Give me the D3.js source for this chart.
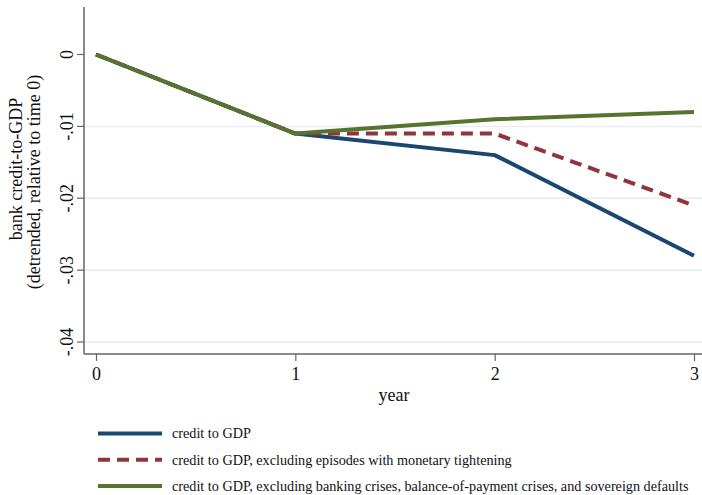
<!DOCTYPE html>
<html>
<head>
<meta charset="utf-8">
<script src="https://cdn.jsdelivr.net/npm/d3@7"></script>
<style>
  body { margin: 0; background: #fff; }
  svg text { font-family: "Liberation Serif", "Times New Roman", serif; fill: #111; }
</style>
</head>
<body>
<div id="chart"></div>
<script>
const years = [0, 1, 2, 3];
const creditToGdp = [0, -0.011, -0.014, -0.028];
const exclTightening = [0, -0.011, -0.011, -0.021];
const exclCrises = [0, -0.011, -0.009, -0.008];
const yTicks = [0, -0.01, -0.02, -0.03, -0.04];
const yTickLabels = ["0", "-.01", "-.02", "-.03", "-.04"];
const seriesNames = [
  "credit to GDP",
  "credit to GDP, excluding episodes with monetary tightening",
  "credit to GDP, excluding banking crises, balance-of-payment crises, and sovereign defaults"
];

const width = 702, height = 495;
const svg = d3.select("#chart").append("svg")
  .attr("width", width)
  .attr("height", height);

// plot frame
const plotLeft = 84, plotRight = 702, plotTop = 7, plotBottom = 354;
const axisFont = 18;

const x = d3.scaleLinear().domain([0, 3]).range([96, 694]);
const y = d3.scaleLinear().domain([0, -0.04]).range([54.5, 342]);

// gridlines
svg.append("g")
  .selectAll("line")
  .data(yTicks.slice(1))
  .enter()
  .append("line")
  .attr("x1", plotLeft).attr("x2", plotRight)
  .attr("y1", (d) => y(d)).attr("y2", (d) => y(d))
  .attr("stroke", "#e6eef1")
  .attr("stroke-width", 1.5);

// axes
const yAxis = svg.append("g")
  .attr("transform", `translate(${plotLeft},0)`)
  .call(d3.axisLeft(y).tickValues(yTicks).tickSize(7).tickFormat((d, i) => yTickLabels[i]));
yAxis.select(".domain").attr("d", `M0,${plotTop}V${plotBottom}`);
yAxis.selectAll("line").attr("stroke", "#666").attr("stroke-width", 1.2);
yAxis.select(".domain").attr("stroke", "#666").attr("stroke-width", 1.5);
yAxis.selectAll(".tick").attr("transform", null);
yAxis.selectAll(".tick line").attr("y1", (d) => y(d)).attr("y2", (d) => y(d));
yAxis.selectAll("text")
  .attr("font-size", axisFont)
  .attr("transform", "rotate(-90)")
  .attr("x", (d) => -y(d))
  .attr("y", -11)
  .attr("dy", 0)
  .attr("text-anchor", "middle")
  .style("font-family", '"Liberation Serif", serif')
  .attr("fill", "#111");

const xAxis = svg.append("g")
  .attr("transform", `translate(0,${plotBottom})`)
  .call(d3.axisBottom(x).tickValues(years).tickSize(7).tickFormat(d3.format("d")));
xAxis.select(".domain").attr("d", `M${plotLeft},0H${plotRight}`).attr("stroke", "#666").attr("stroke-width", 1.5);
xAxis.selectAll("line").attr("stroke", "#666").attr("stroke-width", 1.2);
xAxis.selectAll("text")
  .attr("font-size", axisFont)
  .attr("y", 25.5)
  .attr("dy", 0)
  .style("font-family", '"Liberation Serif", serif')
  .attr("fill", "#111");

// axis titles
svg.append("text")
  .attr("x", 394).attr("y", 401)
  .attr("text-anchor", "middle")
  .attr("font-size", axisFont)
  .text("year");

svg.append("text")
  .attr("transform", "translate(22,169) rotate(-90)")
  .attr("text-anchor", "middle")
  .attr("font-size", axisFont)
  .text("bank credit-to-GDP");
svg.append("text")
  .attr("transform", "translate(39.5,182) rotate(-90)")
  .attr("text-anchor", "middle")
  .attr("font-size", axisFont)
  .text("(detrended, relative to time 0)");

// series
const series = [
  { name: seriesNames[0], values: creditToGdp, color: "#1a476f", dash: null },
  { name: seriesNames[1], values: exclTightening, color: "#90353b", dash: "12,7" },
  { name: seriesNames[2], values: exclCrises, color: "#55752f", dash: null }
];

const line = d3.line()
  .x((d, i) => x(years[i]))
  .y((d) => y(d));

svg.append("g")
  .selectAll("path")
  .data(series)
  .enter()
  .append("path")
  .attr("d", (d) => line(d.values))
  .attr("fill", "none")
  .attr("stroke", (d) => d.color)
  .attr("stroke-width", 4)
  .attr("stroke-linejoin", "round")
  .attr("stroke-dasharray", (d) => d.dash);

// legend
const legend = svg.append("g")
  .selectAll("g")
  .data(series)
  .enter()
  .append("g")
  .attr("transform", (d, i) => `translate(98,${433.5 + i * 26.3})`);

legend.append("line")
  .attr("x1", 0).attr("x2", 64)
  .attr("stroke", (d) => d.color)
  .attr("stroke-width", 4)
  .attr("stroke-dasharray", (d) => d.dash);

legend.append("text")
  .attr("x", 74)
  .attr("dy", "0.35em")
  .attr("font-size", 14.2)
  .text((d) => d.name);
</script>
</body>
</html>
